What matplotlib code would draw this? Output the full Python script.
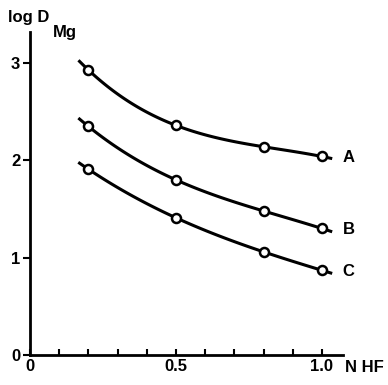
"""
log D_Mg against HF normality for three series (A, B, C)
"""

import numpy as np
import matplotlib
matplotlib.use('Agg')
from matplotlib import pyplot as plt

# data
n_hf = [0.2, 0.5, 0.8, 1.0]
log_d_a = [2.93, 2.36, 2.14, 2.04]
log_d_b = [2.35, 1.80, 1.48, 1.30]
log_d_c = [1.91, 1.41, 1.06, 0.87]
series_names = ['A', 'B', 'C']

plt.rcParams['font.family'] = ['Liberation Sans Narrow', 'Liberation Sans', 'DejaVu Sans']
plt.rcParams['font.weight'] = 'bold'

fig = plt.figure(figsize=(3.88, 3.85), dpi=100)
ax = fig.add_axes([0.077, 0.078, 0.807, 0.839])

# smooth curve through each series, drawn a bit past the end points
xs = np.linspace(0.17, 1.03, 100)
for ys, name in zip([log_d_a, log_d_b, log_d_c], series_names):
    coef = np.polyfit(n_hf, ys, 3)
    ax.plot(xs, np.polyval(coef, xs), c='black', linewidth=2.2, zorder=2)
    ax.plot(n_hf, ys, 'o', markersize=6.5, markerfacecolor='white',
            markeredgecolor='black', markeredgewidth=1.8, zorder=3)
    ax.text(1.07, ys[-1] - 0.01, name, fontsize=12, fontweight='bold',
            ha='left', va='center')

# format plot
ax.set_xlim(0, 1.072)
ax.set_ylim(0, 3.32)
for side in ['top', 'right']:
    ax.spines[side].set_visible(False)
for side in ['left', 'bottom']:
    ax.spines[side].set_linewidth(2)

ax.set_xticks([0, 0.5, 1.0])
ax.set_xticklabels(['0', '0.5', '1.0'])
ax.set_xticks(np.arange(0.1, 1.05, 0.1), minor=True)
ax.set_yticks([0, 1, 2, 3])
ax.set_yticklabels(['0', '1', '2', '3'])
ax.tick_params(axis='x', which='both', direction='in', length=4, width=1.5,
               labelsize=12, pad=3)
ax.tick_params(axis='y', which='major', direction='out', length=5, width=1.5,
               labelsize=12, pad=2)
ax.patch.set_visible(False)

fig.text(0.94, 0.026, 'N HF', fontsize=12, fontweight='bold', ha='center', va='bottom')
fig.text(0.02, 0.935, 'log D', fontsize=12, fontweight='bold', ha='left', va='bottom')
fig.text(0.136, 0.896, 'Mg', fontsize=12, fontweight='bold', ha='left', va='bottom')

plt.savefig('out.png', dpi=100)
